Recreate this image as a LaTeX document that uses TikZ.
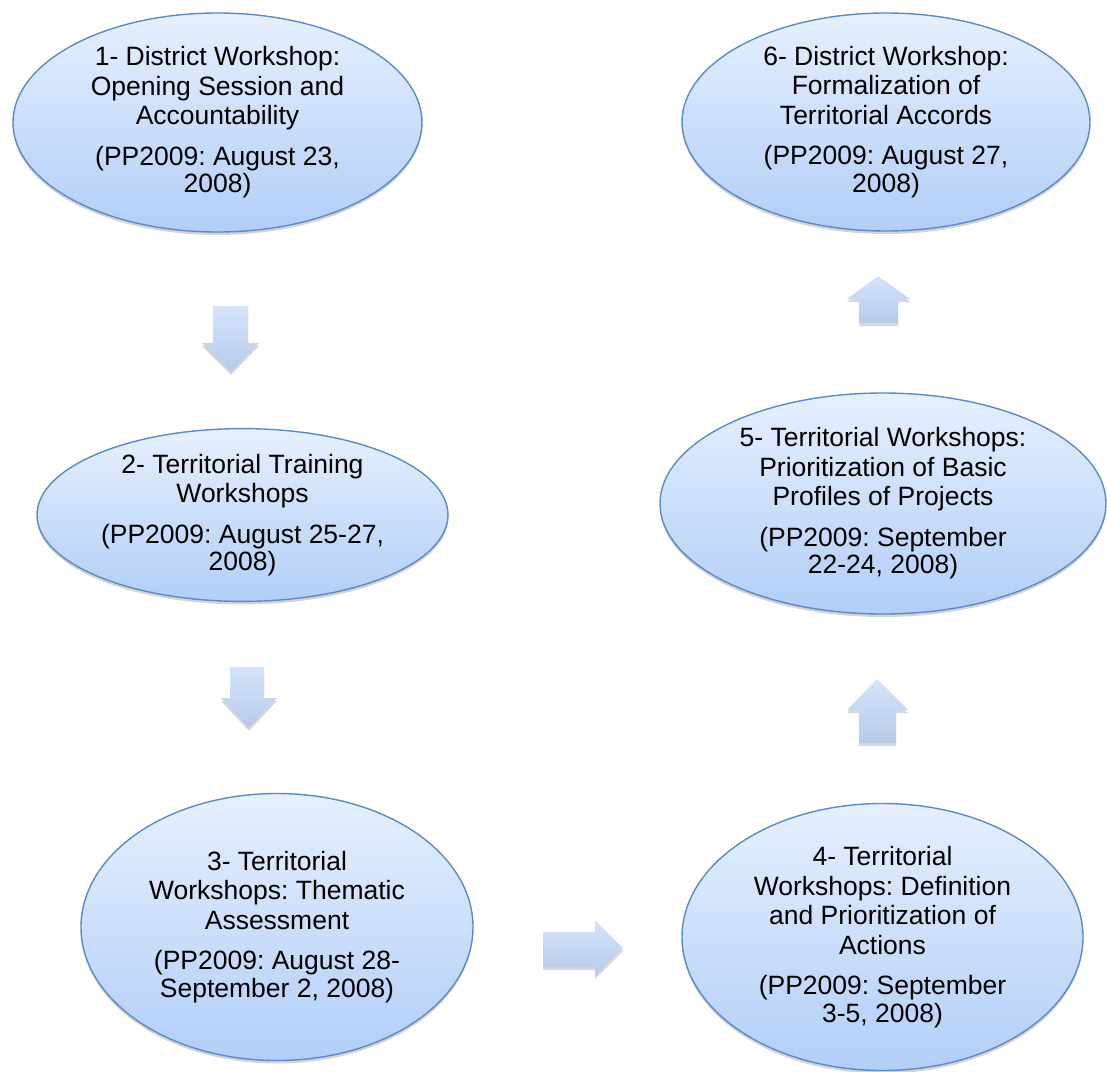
\documentclass[tikz,border=0pt]{standalone}
\usepackage{fontspec}
\setmainfont{Liberation Sans}
\frenchspacing
\usetikzlibrary{shapes.geometric,shadows}
\definecolor{elltop}{HTML}{E6F0FE}
\definecolor{ellbot}{HTML}{B2CEF8}
\definecolor{ellline}{HTML}{5B8BC7}
\definecolor{arrtop}{HTML}{D5E4FB}
\definecolor{arrbot}{HTML}{B6CAE9}
\tikzset{
  stage/.style={ellipse, draw=ellline, line width=1.4pt, inner sep=0pt,
    top color=elltop, bottom color=ellbot, align=center,
    font=\fontsize{26.5}{29.5}\selectfont,
    drop shadow={shadow xshift=0pt, shadow yshift=-3pt, opacity=0.28, fill=black!60}},
  blockarrow/.style={draw=none,
    top color=arrtop, bottom color=arrbot,
    drop shadow={shadow xshift=0pt, shadow yshift=-3pt, opacity=0.25, fill=black!60}},
}
\begin{document}
\begin{tikzpicture}[x=1pt,y=-1pt]
\useasboundingbox (0,0) rectangle (1107,1071);
\fill[white] (0,0) rectangle (1107,1071);

\node[stage, minimum width=409pt, minimum height=219pt] (s1) at (217.5,122.5)
  {1- District Workshop:\\Opening Session and\\Accountability\\[11pt](PP2009: August 23,\\[-2pt]2008)};
\node[stage, minimum width=411pt, minimum height=167pt] (s2) at (242.5,515)
  {2- Territorial Training\\Workshops\\[11pt](PP2009: August 25-27,\\[-2pt]2008)};
\node[stage, minimum width=392pt, minimum height=267pt] (s3) at (277,927)
  {3- Territorial\\Workshops: Thematic\\Assessment\\[11pt](PP2009: August 28-\\[-2pt]September 2, 2008)};
\node[stage, minimum width=401pt, minimum height=267pt] (s4) at (882.5,937)
  {4- Territorial\\Workshops: Definition\\and Prioritization of\\Actions\\[11pt](PP2009: September\\[-2pt]3-5, 2008)};
\node[stage, minimum width=446pt, minimum height=221pt] (s5) at (883,503.5)
  {5- Territorial Workshops:\\Prioritization of Basic\\Profiles of Projects\\[11pt](PP2009: September\\[-2pt]22-24, 2008)};
\node[stage, minimum width=408pt, minimum height=218pt] (s6) at (886,122)
  {6- District Workshop:\\Formalization of\\Territorial Accords\\[11pt](PP2009: August 27,\\[-2pt]2008)};

% block arrows between the stages
\path[blockarrow] (213,306) -- (248,306) -- (248,343) -- (259,343) -- (231,372)
  -- (202,343) -- (213,343) -- cycle;
\path[blockarrow] (230,667) -- (264,667) -- (264,698) -- (277,698) -- (249,728)
  -- (221,698) -- (230,698) -- cycle;
\path[blockarrow] (543,932) -- (595,932) -- (595,920) -- (623,948) -- (595,976)
  -- (595,967) -- (543,967) -- cycle;
\path[blockarrow] (859,743) -- (896,743) -- (896,710) -- (908,710) -- (877,679)
  -- (847,710) -- (859,710) -- cycle;
\path[blockarrow] (859,323) -- (898,323) -- (898,299) -- (910,299) -- (878,276)
  -- (847,299) -- (859,299) -- cycle;
\end{tikzpicture}
\end{document}
